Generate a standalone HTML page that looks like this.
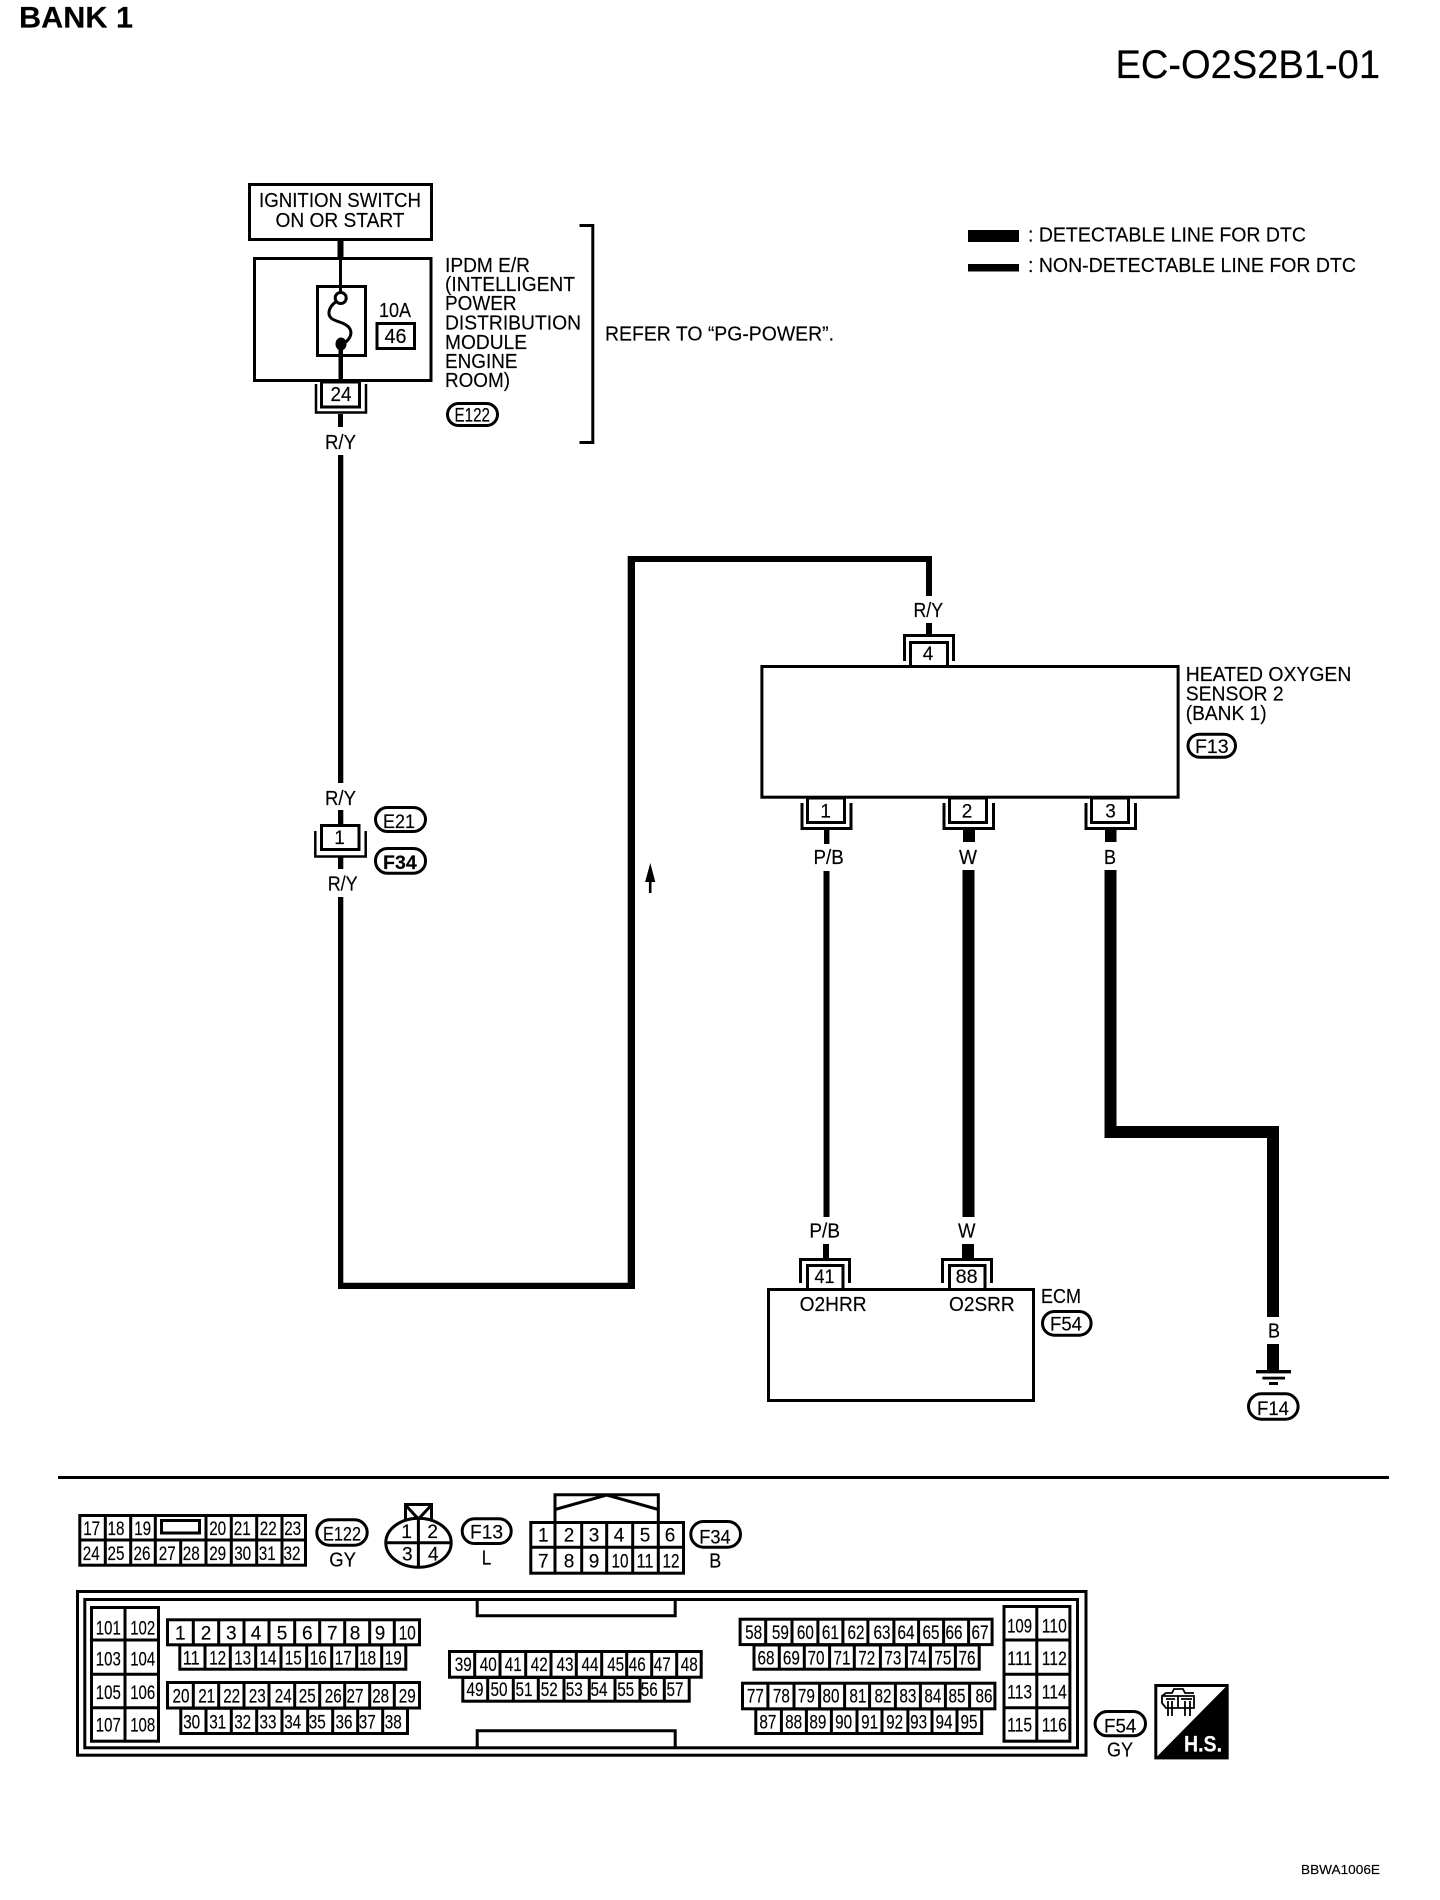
<!DOCTYPE html>
<html><head><meta charset="utf-8"><title>EC-O2S2B1-01</title>
<style>
html,body{margin:0;padding:0;background:#fff}
svg{display:block}
text{font-family:"Liberation Sans",Arial,sans-serif;fill:#000;font-size:20px;stroke:#000;stroke-width:.15px}
.c text{font-size:19px;text-anchor:middle}
.m{text-anchor:middle}
.p{font-size:19px}
.s{fill:none;stroke:#000;stroke-width:3}
.w{fill:#fff;stroke:#000;stroke-width:3}
</style></head><body>
<svg width="1440" height="1900" viewBox="0 0 1440 1900" xmlns="http://www.w3.org/2000/svg">
<rect width="1440" height="1900" fill="#fff"/>
<text x="19" y="27.5" style="font-size:29.5px;font-weight:bold" textLength="114" lengthAdjust="spacingAndGlyphs">BANK 1</text>
<text x="1115.5" y="78" style="font-size:39.5px" textLength="264.5" lengthAdjust="spacingAndGlyphs">EC-O2S2B1-01</text>
<rect x="968" y="230" width="51" height="12"/>
<rect x="968" y="264" width="51" height="7.5"/>
<text x="1028" y="241.5" textLength="278" lengthAdjust="spacingAndGlyphs">: DETECTABLE LINE FOR DTC</text>
<text x="1028" y="272" textLength="328" lengthAdjust="spacingAndGlyphs">: NON-DETECTABLE LINE FOR DTC</text>

<!-- wires -->
<g>
<rect x="337.5" y="241" width="6" height="17"/>
<rect x="339" y="258" width="3" height="34"/>
<rect x="338.5" y="344" width="4.5" height="40"/>
<rect x="338" y="414" width="5" height="13"/>
<path d="M338 455H343.3V783H338ZM338 810H343.3V824H338ZM338 857H343.3V869H338ZM338 897H343.3V1282.7H627.7V556H932V596H926V562H635V1289H338Z"/>
<rect x="926" y="623" width="6" height="12"/>
<rect x="824" y="830" width="5.4" height="14"/>
<rect x="823.5" y="871" width="6" height="346"/>
<rect x="823" y="1244" width="6" height="15"/>
<rect x="963" y="830" width="12" height="12"/>
<rect x="962.5" y="870" width="12" height="347"/>
<rect x="962" y="1244" width="12" height="15"/>
<rect x="1105" y="830" width="11.5" height="12"/>
<path d="M1104.5 870H1116.5V1126H1279V1317H1267V1138H1104.5Z"/>
<rect x="1267" y="1344" width="12" height="27"/>
<rect x="1256" y="1370" width="35" height="3.4"/>
<rect x="1262.4" y="1376.7" width="22.6" height="2.8"/>
<rect x="1269" y="1382" width="9" height="3"/>
<rect x="58" y="1476" width="1331" height="3"/>
<path d="M650.3 863l5 19h-3.8v11h-2.6v-11h-3.8z"/>
</g>

<!-- top blocks -->
<rect class="s" x="249.5" y="184.5" width="182" height="55"/>
<text x="259" y="207" textLength="162" lengthAdjust="spacingAndGlyphs">IGNITION SWITCH</text>
<text x="275.5" y="227" textLength="129" lengthAdjust="spacingAndGlyphs">ON OR START</text>
<rect class="s" x="254.5" y="258.5" width="176.5" height="122"/>
<rect class="s" x="317.5" y="286.5" width="48" height="69"/>
<rect x="339" y="258" width="3" height="34"/>
<circle class="w" cx="340.7" cy="298" r="5.5"/>
<path class="s" d="M335.5 302C329 307 327 314 331 318C335 322 346 322 350 329C353 335 348 341 343 344"/>
<ellipse cx="341" cy="344" rx="5.5" ry="6.5"/>
<text x="379" y="317" textLength="32" lengthAdjust="spacingAndGlyphs">10A</text>
<rect class="s" x="377" y="323.5" width="37.5" height="25"/>
<text x="395.5" y="343" class="m" textLength="22" lengthAdjust="spacingAndGlyphs">46</text>
<path class="s" style="stroke-width:2.5" d="M316 384V412.5H366V384"/>
<rect class="w" x="321.5" y="382" width="38" height="25"/>
<text x="341" y="401" class="m" textLength="21" lengthAdjust="spacingAndGlyphs">24</text>
<text x="325" y="449" textLength="31" lengthAdjust="spacingAndGlyphs">R/Y</text>
<text x="445" y="272" textLength="85" lengthAdjust="spacingAndGlyphs">IPDM E/R</text>
<text x="445" y="291" textLength="130" lengthAdjust="spacingAndGlyphs">(INTELLIGENT</text>
<text x="445" y="310" textLength="71.5" lengthAdjust="spacingAndGlyphs">POWER</text>
<text x="445" y="329.5" textLength="136" lengthAdjust="spacingAndGlyphs">DISTRIBUTION</text>
<text x="445" y="349" textLength="82" lengthAdjust="spacingAndGlyphs">MODULE</text>
<text x="445" y="368" textLength="72.5" lengthAdjust="spacingAndGlyphs">ENGINE</text>
<text x="445" y="387" textLength="65" lengthAdjust="spacingAndGlyphs">ROOM)</text>
<rect class="s" x="447.5" y="403.5" width="50" height="22" rx="11"/>
<text x="454.5" y="421.5" textLength="35.5" lengthAdjust="spacingAndGlyphs" class="p">E122</text>
<path class="s" d="M579.5 225.5H592.8V442.5H579.5"/>
<text x="605" y="340.5" textLength="229" lengthAdjust="spacingAndGlyphs">REFER TO “PG-POWER”.</text>

<!-- E21/F34 joint -->
<text x="325" y="805" textLength="31" lengthAdjust="spacingAndGlyphs">R/Y</text>
<path class="s" style="stroke-width:2.5" d="M315.3 831V856.5H365.7V831"/>
<rect class="w" x="321.5" y="825.5" width="37.5" height="24"/>
<text x="339.5" y="844" class="m p">1</text>
<text x="327.7" y="890.7" textLength="30" lengthAdjust="spacingAndGlyphs">R/Y</text>
<rect class="s" x="375.5" y="807.5" width="50" height="24" rx="12"/>
<text x="383" y="828" textLength="32" lengthAdjust="spacingAndGlyphs" class="p">E21</text>
<rect class="s" x="375.5" y="848.5" width="50" height="24.7" rx="12"/>
<text x="383" y="869" textLength="33.7" lengthAdjust="spacingAndGlyphs" class="p" style="font-weight:bold">F34</text>

<!-- sensor -->
<text x="913.5" y="617" textLength="29.5" lengthAdjust="spacingAndGlyphs">R/Y</text>
<path class="s" d="M904.5 661V635.5H953.5V661"/>
<rect class="w" x="761.9" y="666.5" width="416.2" height="130.7"/>
<rect class="w" x="910.5" y="642.5" width="37" height="24"/>
<text x="928" y="660" class="m p">4</text>
<text x="1185.7" y="681" textLength="165.7" lengthAdjust="spacingAndGlyphs">HEATED OXYGEN</text>
<text x="1185.7" y="700.7" textLength="98" lengthAdjust="spacingAndGlyphs">SENSOR 2</text>
<text x="1185.7" y="720" textLength="81" lengthAdjust="spacingAndGlyphs">(BANK 1)</text>
<rect class="s" x="1188" y="734.2" width="47.5" height="23" rx="11.5"/>
<text x="1195" y="753" textLength="33.6" lengthAdjust="spacingAndGlyphs" class="p">F13</text>
<path class="s" d="M802 803V828.5H851V803"/>
<rect class="w" x="807.5" y="798" width="37" height="24.5"/>
<text x="825.7" y="817.5" class="m p">1</text>
<path class="s" d="M944 803V828.5H993.5V803"/>
<rect class="w" x="949.5" y="798" width="37" height="24.5"/>
<text x="967" y="817.5" class="m p">2</text>
<path class="s" d="M1086 803V828.5H1135.5V803"/>
<rect class="w" x="1091.5" y="798" width="37" height="24.5"/>
<text x="1110.6" y="817.5" class="m p">3</text>
<text x="813.5" y="864" textLength="30.2" lengthAdjust="spacingAndGlyphs">P/B</text>
<text x="959" y="864" textLength="18" lengthAdjust="spacingAndGlyphs">W</text>
<text x="1104" y="864" textLength="12" lengthAdjust="spacingAndGlyphs">B</text>

<!-- ECM -->
<text x="809.4" y="1237.7" textLength="30.6" lengthAdjust="spacingAndGlyphs">P/B</text>
<text x="958" y="1237.7" textLength="17.5" lengthAdjust="spacingAndGlyphs">W</text>
<path class="s" d="M800.5 1283V1259.5H849.5V1283"/>
<path class="s" d="M942.5 1283V1259.5H991.5V1283"/>
<rect class="w" x="768.5" y="1289.5" width="265" height="111"/>
<rect class="w" x="807.5" y="1265.5" width="35.5" height="24"/>
<rect class="w" x="949.5" y="1265.5" width="35.5" height="24"/>
<text x="824.5" y="1283" class="m p" textLength="20" lengthAdjust="spacingAndGlyphs">41</text>
<text x="966.7" y="1283" class="m p" textLength="22" lengthAdjust="spacingAndGlyphs">88</text>
<text x="799.6" y="1311" textLength="67" lengthAdjust="spacingAndGlyphs">O2HRR</text>
<text x="949" y="1311" textLength="65.7" lengthAdjust="spacingAndGlyphs">O2SRR</text>
<text x="1041" y="1303" textLength="40" lengthAdjust="spacingAndGlyphs">ECM</text>
<rect class="s" x="1042.5" y="1311.5" width="48.6" height="23.7" rx="11.8"/>
<text x="1050" y="1330.7" textLength="32" lengthAdjust="spacingAndGlyphs" class="p">F54</text>
<text x="1268" y="1337.7" textLength="12" lengthAdjust="spacingAndGlyphs">B</text>
<rect class="s" x="1248.5" y="1393.8" width="49.6" height="25.4" rx="12.7"/>
<text x="1257" y="1415" textLength="32" lengthAdjust="spacingAndGlyphs" class="p">F14</text>

<!-- E122 connector -->
<rect class="w" x="79.8" y="1515.5" width="225.7" height="49.7"/>
<path class="s" d="M79.8 1540H305.5M105.3 1515.5V1565M130.7 1515.5V1565M155.3 1515.5V1565M206 1515.5V1565M231.3 1515.5V1565M256.7 1515.5V1565M282 1515.5V1565M180.7 1540V1565"/>
<rect class="s" x="161.5" y="1520.5" width="38" height="12.5"/>
<g class="c">
<text x="91.7" y="1535" textLength="17" lengthAdjust="spacingAndGlyphs">17</text>
<text x="116" y="1535" textLength="17" lengthAdjust="spacingAndGlyphs">18</text>
<text x="142.7" y="1535" textLength="17" lengthAdjust="spacingAndGlyphs">19</text>
<text x="217.7" y="1535" textLength="17" lengthAdjust="spacingAndGlyphs">20</text>
<text x="242.3" y="1535" textLength="17" lengthAdjust="spacingAndGlyphs">21</text>
<text x="268.3" y="1535" textLength="17" lengthAdjust="spacingAndGlyphs">22</text>
<text x="292.7" y="1535" textLength="17" lengthAdjust="spacingAndGlyphs">23</text>
<text x="91.3" y="1560" textLength="17" lengthAdjust="spacingAndGlyphs">24</text>
<text x="116" y="1560" textLength="17" lengthAdjust="spacingAndGlyphs">25</text>
<text x="142" y="1560" textLength="17" lengthAdjust="spacingAndGlyphs">26</text>
<text x="167.3" y="1560" textLength="17" lengthAdjust="spacingAndGlyphs">27</text>
<text x="191.3" y="1560" textLength="17" lengthAdjust="spacingAndGlyphs">28</text>
<text x="217.7" y="1560" textLength="17" lengthAdjust="spacingAndGlyphs">29</text>
<text x="242.7" y="1560" textLength="17" lengthAdjust="spacingAndGlyphs">30</text>
<text x="267.3" y="1560" textLength="17" lengthAdjust="spacingAndGlyphs">31</text>
<text x="292" y="1560" textLength="17" lengthAdjust="spacingAndGlyphs">32</text>
</g>
<rect class="s" x="316.8" y="1519.8" width="50.4" height="25.4" rx="12.7"/>
<text x="323" y="1540.7" textLength="38" lengthAdjust="spacingAndGlyphs" class="p">E122</text>
<text x="329.3" y="1566.7" textLength="26.7" lengthAdjust="spacingAndGlyphs">GY</text>

<!-- Oval connector -->
<ellipse class="s" cx="418.5" cy="1542.7" rx="32.7" ry="24.5"/>
<path class="s" d="M385 1542.7H452M418.4 1517V1568M405.5 1520V1504.5H431.5V1520M405.5 1505L418.4 1519L431.5 1505"/>
<g class="c">
<text x="406.7" y="1538">1</text><text x="432.7" y="1538">2</text>
<text x="407.3" y="1560.7">3</text><text x="433.3" y="1560.7">4</text>
</g>
<rect class="s" x="462.2" y="1518.8" width="49" height="24.7" rx="12.3"/>
<text x="470" y="1538.3" textLength="33" lengthAdjust="spacingAndGlyphs" class="p">F13</text>
<text x="481.7" y="1564.3" textLength="9.5" lengthAdjust="spacingAndGlyphs">L</text>

<!-- F34 connector -->
<path class="s" d="M555 1521V1494.8H658.3V1521M555 1509.5L606.7 1495L658.3 1509.5"/>
<rect class="w" x="530.8" y="1522.5" width="152.7" height="50.7"/>
<path class="s" d="M530.8 1547.3H683.5M555 1522V1574M581.7 1522V1574M606.7 1522V1574M632.7 1522V1574M658.3 1522V1574"/>
<g class="c">
<text x="543.3" y="1541.7">1</text><text x="569" y="1541.7">2</text><text x="594" y="1541.7">3</text><text x="619" y="1541.7">4</text><text x="645" y="1541.7">5</text><text x="670" y="1541.7">6</text>
<text x="543.3" y="1567.3">7</text><text x="569" y="1567.3">8</text><text x="594" y="1567.3">9</text>
<text x="620" y="1567.3" textLength="17" lengthAdjust="spacingAndGlyphs">10</text>
<text x="645" y="1567.3" textLength="17" lengthAdjust="spacingAndGlyphs">11</text>
<text x="671" y="1567.3" textLength="17" lengthAdjust="spacingAndGlyphs">12</text>
</g>
<rect class="s" x="690.8" y="1521.5" width="49.7" height="25.7" rx="12.8"/>
<text x="699.3" y="1543.3" textLength="31.4" lengthAdjust="spacingAndGlyphs" class="p">F34</text>
<text x="709.3" y="1567.3" textLength="12" lengthAdjust="spacingAndGlyphs">B</text>

<!-- ECM connector frame -->
<rect class="s" x="77.5" y="1591.5" width="1008.5" height="163.7"/>
<rect class="s" x="84.8" y="1599.5" width="992.7" height="148.3"/>
<path class="s" d="M477.2 1599V1615.8H675.2V1599M477.2 1748V1730.8H675.2V1748"/>

<!-- left block -->
<rect class="w" x="91.5" y="1607.5" width="67" height="133.7"/>
<path class="s" d="M125 1607V1741M91 1640H158M91 1674.3H158M91 1707.7H158"/>
<g class="c">
<text x="108.3" y="1634.3" textLength="25" lengthAdjust="spacingAndGlyphs">101</text><text x="142.7" y="1634.3" textLength="25" lengthAdjust="spacingAndGlyphs">102</text>
<text x="108.3" y="1665.7" textLength="25" lengthAdjust="spacingAndGlyphs">103</text><text x="142.7" y="1665.7" textLength="25" lengthAdjust="spacingAndGlyphs">104</text>
<text x="108.3" y="1699" textLength="25" lengthAdjust="spacingAndGlyphs">105</text><text x="142.7" y="1699" textLength="25" lengthAdjust="spacingAndGlyphs">106</text>
<text x="108.3" y="1731.7" textLength="25" lengthAdjust="spacingAndGlyphs">107</text><text x="142.7" y="1731.7" textLength="25" lengthAdjust="spacingAndGlyphs">108</text>
</g>

<!-- 1-19 -->
<rect class="w" x="167.5" y="1619.8" width="252" height="25"/>
<path class="s" d="M193.3 1619V1645M218.7 1619V1645M244 1619V1645M269 1619V1645M294.7 1619V1645M319.7 1619V1645M344.7 1619V1645M369.7 1619V1645M394.3 1619V1645"/>
<rect class="w" x="179.8" y="1645" width="226" height="24.2"/>
<path class="s" d="M205 1645V1670M230.3 1645V1670M255.7 1645V1670M281 1645V1670M306.7 1645V1670M331.7 1645V1670M356.7 1645V1670M381.7 1645V1670"/>
<g class="c">
<text x="180.3" y="1639.3">1</text><text x="206" y="1639.3">2</text><text x="231.3" y="1639.3">3</text><text x="256" y="1639.3">4</text><text x="282" y="1639.3">5</text><text x="307.3" y="1639.3">6</text><text x="332.3" y="1639.3">7</text><text x="355" y="1639.3">8</text><text x="380" y="1639.3">9</text>
<text x="407.3" y="1639.3" textLength="17" lengthAdjust="spacingAndGlyphs">10</text>
<text x="191.3" y="1664.3" textLength="17" lengthAdjust="spacingAndGlyphs">11</text>
<text x="217.7" y="1664.3" textLength="17" lengthAdjust="spacingAndGlyphs">12</text>
<text x="242.7" y="1664.3" textLength="17" lengthAdjust="spacingAndGlyphs">13</text>
<text x="268" y="1664.3" textLength="17" lengthAdjust="spacingAndGlyphs">14</text>
<text x="293.3" y="1664.3" textLength="17" lengthAdjust="spacingAndGlyphs">15</text>
<text x="318.3" y="1664.3" textLength="17" lengthAdjust="spacingAndGlyphs">16</text>
<text x="343.3" y="1664.3" textLength="17" lengthAdjust="spacingAndGlyphs">17</text>
<text x="367.7" y="1664.3" textLength="17" lengthAdjust="spacingAndGlyphs">18</text>
<text x="393.3" y="1664.3" textLength="17" lengthAdjust="spacingAndGlyphs">19</text>
</g>

<!-- 20-38 -->
<rect class="w" x="167.5" y="1682.5" width="252" height="25.5"/>
<path class="s" d="M193.3 1682V1708M218.7 1682V1708M244 1682V1708M269 1682V1708M294.7 1682V1708M319.7 1682V1708M344.7 1682V1708M369.7 1682V1708M394.3 1682V1708"/>
<rect class="w" x="180.8" y="1708.3" width="226.7" height="25.2"/>
<path class="s" d="M206 1708V1734M231.3 1708V1734M256.7 1708V1734M282 1708V1734M307.7 1708V1734M332.7 1708V1734M357.7 1708V1734M382.7 1708V1734"/>
<g class="c">
<text x="181" y="1702.7" textLength="17" lengthAdjust="spacingAndGlyphs">20</text>
<text x="206.7" y="1702.7" textLength="17" lengthAdjust="spacingAndGlyphs">21</text>
<text x="231.7" y="1702.7" textLength="17" lengthAdjust="spacingAndGlyphs">22</text>
<text x="257.3" y="1702.7" textLength="17" lengthAdjust="spacingAndGlyphs">23</text>
<text x="283.3" y="1702.7" textLength="17" lengthAdjust="spacingAndGlyphs">24</text>
<text x="307.3" y="1702.7" textLength="17" lengthAdjust="spacingAndGlyphs">25</text>
<text x="333.3" y="1702.7" textLength="17" lengthAdjust="spacingAndGlyphs">26</text>
<text x="355" y="1702.7" textLength="17" lengthAdjust="spacingAndGlyphs">27</text>
<text x="380.7" y="1702.7" textLength="17" lengthAdjust="spacingAndGlyphs">28</text>
<text x="407.3" y="1702.7" textLength="17" lengthAdjust="spacingAndGlyphs">29</text>
<text x="191.7" y="1728.3" textLength="17" lengthAdjust="spacingAndGlyphs">30</text>
<text x="217.7" y="1728.3" textLength="17" lengthAdjust="spacingAndGlyphs">31</text>
<text x="242.7" y="1728.3" textLength="17" lengthAdjust="spacingAndGlyphs">32</text>
<text x="268" y="1728.3" textLength="17" lengthAdjust="spacingAndGlyphs">33</text>
<text x="292.7" y="1728.3" textLength="17" lengthAdjust="spacingAndGlyphs">34</text>
<text x="317.3" y="1728.3" textLength="17" lengthAdjust="spacingAndGlyphs">35</text>
<text x="344" y="1728.3" textLength="17" lengthAdjust="spacingAndGlyphs">36</text>
<text x="367.3" y="1728.3" textLength="17" lengthAdjust="spacingAndGlyphs">37</text>
<text x="393.3" y="1728.3" textLength="17" lengthAdjust="spacingAndGlyphs">38</text>
</g>

<!-- 39-57 -->
<rect class="w" x="449.5" y="1651.5" width="251.7" height="25.7"/>
<path class="s" d="M474.7 1651V1677M500 1651V1677M525.7 1651V1677M551 1651V1677M576.3 1651V1677M601.7 1651V1677M626.7 1651V1677M651.7 1651V1677M676.7 1651V1677"/>
<rect class="w" x="462.8" y="1677.5" width="226.4" height="23.7"/>
<path class="s" d="M487.7 1677V1702M513.3 1677V1702M538.3 1677V1702M564 1677V1702M589.3 1677V1702M615 1677V1702M640 1677V1702M664.3 1677V1702"/>
<g class="c">
<text x="463.3" y="1671" textLength="17" lengthAdjust="spacingAndGlyphs">39</text>
<text x="488.3" y="1671" textLength="17" lengthAdjust="spacingAndGlyphs">40</text>
<text x="513.3" y="1671" textLength="17" lengthAdjust="spacingAndGlyphs">41</text>
<text x="539.3" y="1671" textLength="17" lengthAdjust="spacingAndGlyphs">42</text>
<text x="565" y="1671" textLength="17" lengthAdjust="spacingAndGlyphs">43</text>
<text x="590" y="1671" textLength="17" lengthAdjust="spacingAndGlyphs">44</text>
<text x="615.7" y="1671" textLength="17" lengthAdjust="spacingAndGlyphs">45</text>
<text x="637.3" y="1671" textLength="17" lengthAdjust="spacingAndGlyphs">46</text>
<text x="662.3" y="1671" textLength="17" lengthAdjust="spacingAndGlyphs">47</text>
<text x="689.3" y="1671" textLength="17" lengthAdjust="spacingAndGlyphs">48</text>
<text x="475" y="1696" textLength="17" lengthAdjust="spacingAndGlyphs">49</text>
<text x="499" y="1696" textLength="17" lengthAdjust="spacingAndGlyphs">50</text>
<text x="524" y="1696" textLength="17" lengthAdjust="spacingAndGlyphs">51</text>
<text x="549.3" y="1696" textLength="17" lengthAdjust="spacingAndGlyphs">52</text>
<text x="574.3" y="1696" textLength="17" lengthAdjust="spacingAndGlyphs">53</text>
<text x="599" y="1696" textLength="17" lengthAdjust="spacingAndGlyphs">54</text>
<text x="625.7" y="1696" textLength="17" lengthAdjust="spacingAndGlyphs">55</text>
<text x="649.3" y="1696" textLength="17" lengthAdjust="spacingAndGlyphs">56</text>
<text x="675" y="1696" textLength="17" lengthAdjust="spacingAndGlyphs">57</text>
</g>

<!-- 58-76 -->
<rect class="w" x="740.1" y="1619.2" width="252" height="25.4"/>
<path class="s" d="M765.7 1619V1645M792 1619V1645M817.9 1619V1645M842.9 1619V1645M867.9 1619V1645M893.9 1619V1645M918.6 1619V1645M943.6 1619V1645M968.6 1619V1645"/>
<rect class="w" x="754" y="1645" width="225.2" height="24.2"/>
<path class="s" d="M779.3 1645V1670M804.3 1645V1670M829.6 1645V1670M854.3 1645V1670M880.4 1645V1670M906.4 1645V1670M930.4 1645V1670M955.4 1645V1670"/>
<g class="c">
<text x="753.6" y="1639" textLength="17" lengthAdjust="spacingAndGlyphs">58</text>
<text x="780.4" y="1639" textLength="17" lengthAdjust="spacingAndGlyphs">59</text>
<text x="805.4" y="1639" textLength="17" lengthAdjust="spacingAndGlyphs">60</text>
<text x="830.4" y="1639" textLength="17" lengthAdjust="spacingAndGlyphs">61</text>
<text x="856" y="1639" textLength="17" lengthAdjust="spacingAndGlyphs">62</text>
<text x="882" y="1639" textLength="17" lengthAdjust="spacingAndGlyphs">63</text>
<text x="906" y="1639" textLength="17" lengthAdjust="spacingAndGlyphs">64</text>
<text x="931" y="1639" textLength="17" lengthAdjust="spacingAndGlyphs">65</text>
<text x="954" y="1639" textLength="17" lengthAdjust="spacingAndGlyphs">66</text>
<text x="980" y="1639" textLength="17" lengthAdjust="spacingAndGlyphs">67</text>
<text x="766" y="1664.3" textLength="17" lengthAdjust="spacingAndGlyphs">68</text>
<text x="791.4" y="1664.3" textLength="17" lengthAdjust="spacingAndGlyphs">69</text>
<text x="816" y="1664.3" textLength="17" lengthAdjust="spacingAndGlyphs">70</text>
<text x="842" y="1664.3" textLength="17" lengthAdjust="spacingAndGlyphs">71</text>
<text x="866.8" y="1664.3" textLength="17" lengthAdjust="spacingAndGlyphs">72</text>
<text x="892.9" y="1664.3" textLength="17" lengthAdjust="spacingAndGlyphs">73</text>
<text x="917.9" y="1664.3" textLength="17" lengthAdjust="spacingAndGlyphs">74</text>
<text x="942.9" y="1664.3" textLength="17" lengthAdjust="spacingAndGlyphs">75</text>
<text x="967" y="1664.3" textLength="17" lengthAdjust="spacingAndGlyphs">76</text>
</g>

<!-- 77-95 -->
<rect class="w" x="742.5" y="1683.2" width="252.4" height="25.6"/>
<path class="s" d="M767.9 1683V1709M794 1683V1709M819.6 1683V1709M844.6 1683V1709M869.6 1683V1709M895.4 1683V1709M920.4 1683V1709M945.4 1683V1709M969.6 1683V1709"/>
<rect class="w" x="755.8" y="1709" width="225.9" height="24.5"/>
<path class="s" d="M781.4 1709V1734M806.4 1709V1734M831.4 1709V1734M857 1709V1734M882 1709V1734M907.9 1709V1734M932 1709V1734M957 1709V1734"/>
<g class="c">
<text x="755.4" y="1702.7" textLength="17" lengthAdjust="spacingAndGlyphs">77</text>
<text x="781.4" y="1702.7" textLength="17" lengthAdjust="spacingAndGlyphs">78</text>
<text x="806.4" y="1702.7" textLength="17" lengthAdjust="spacingAndGlyphs">79</text>
<text x="831" y="1702.7" textLength="17" lengthAdjust="spacingAndGlyphs">80</text>
<text x="857.9" y="1702.7" textLength="17" lengthAdjust="spacingAndGlyphs">81</text>
<text x="883" y="1702.7" textLength="17" lengthAdjust="spacingAndGlyphs">82</text>
<text x="907.9" y="1702.7" textLength="17" lengthAdjust="spacingAndGlyphs">83</text>
<text x="932.9" y="1702.7" textLength="17" lengthAdjust="spacingAndGlyphs">84</text>
<text x="957" y="1702.7" textLength="17" lengthAdjust="spacingAndGlyphs">85</text>
<text x="984" y="1702.7" textLength="17" lengthAdjust="spacingAndGlyphs">86</text>
<text x="767.9" y="1728.3" textLength="17" lengthAdjust="spacingAndGlyphs">87</text>
<text x="793.6" y="1728.3" textLength="17" lengthAdjust="spacingAndGlyphs">88</text>
<text x="817.9" y="1728.3" textLength="17" lengthAdjust="spacingAndGlyphs">89</text>
<text x="843.6" y="1728.3" textLength="17" lengthAdjust="spacingAndGlyphs">90</text>
<text x="869.6" y="1728.3" textLength="17" lengthAdjust="spacingAndGlyphs">91</text>
<text x="894.6" y="1728.3" textLength="17" lengthAdjust="spacingAndGlyphs">92</text>
<text x="918.6" y="1728.3" textLength="17" lengthAdjust="spacingAndGlyphs">93</text>
<text x="944" y="1728.3" textLength="17" lengthAdjust="spacingAndGlyphs">94</text>
<text x="969" y="1728.3" textLength="17" lengthAdjust="spacingAndGlyphs">95</text>
</g>

<!-- right block -->
<rect class="w" x="1004" y="1606.5" width="65.9" height="134.7"/>
<path class="s" d="M1036.8 1606V1741M1004 1640H1070M1004 1674.3H1070M1004 1707.7H1070"/>
<g class="c">
<text x="1019.6" y="1632.3" textLength="25" lengthAdjust="spacingAndGlyphs">109</text><text x="1054.3" y="1632.3" textLength="25" lengthAdjust="spacingAndGlyphs">110</text>
<text x="1019.6" y="1665" textLength="25" lengthAdjust="spacingAndGlyphs">111</text><text x="1054.3" y="1665" textLength="25" lengthAdjust="spacingAndGlyphs">112</text>
<text x="1019.6" y="1698.3" textLength="25" lengthAdjust="spacingAndGlyphs">113</text><text x="1054.3" y="1698.3" textLength="25" lengthAdjust="spacingAndGlyphs">114</text>
<text x="1019.6" y="1731.7" textLength="25" lengthAdjust="spacingAndGlyphs">115</text><text x="1054.3" y="1731.7" textLength="25" lengthAdjust="spacingAndGlyphs">116</text>
</g>

<rect class="s" x="1095.1" y="1711.5" width="50.4" height="24.3" rx="12.1"/>
<text x="1104" y="1732.7" textLength="32.4" lengthAdjust="spacingAndGlyphs" class="p">F54</text>
<text x="1107" y="1756.7" textLength="26" lengthAdjust="spacingAndGlyphs">GY</text>

<!-- HS icon -->
<rect x="1155.8" y="1685.5" width="71.3" height="72.3" class="w"/>
<path d="M1228.6 1684V1759.3H1154.3Z"/>
<g fill="none" stroke="#000" stroke-width="1.8">
<path d="M1162 1696H1194V1708H1166L1162 1703ZM1162 1696L1166 1693H1172L1174 1689H1183L1185 1693H1194M1178 1696V1708M1168 1701V1716M1172 1701V1716M1185 1701V1716M1190 1701V1716M1166 1699H1175M1181 1699H1192"/>
</g>
<text x="1184" y="1751.7" textLength="38" lengthAdjust="spacingAndGlyphs" style="font-size:22px;font-weight:bold;fill:#fff;stroke:#fff">H.S.</text>

<text x="1301" y="1874" textLength="79" lengthAdjust="spacingAndGlyphs" style="font-size:12.5px">BBWA1006E</text>
</svg>
</body></html>
